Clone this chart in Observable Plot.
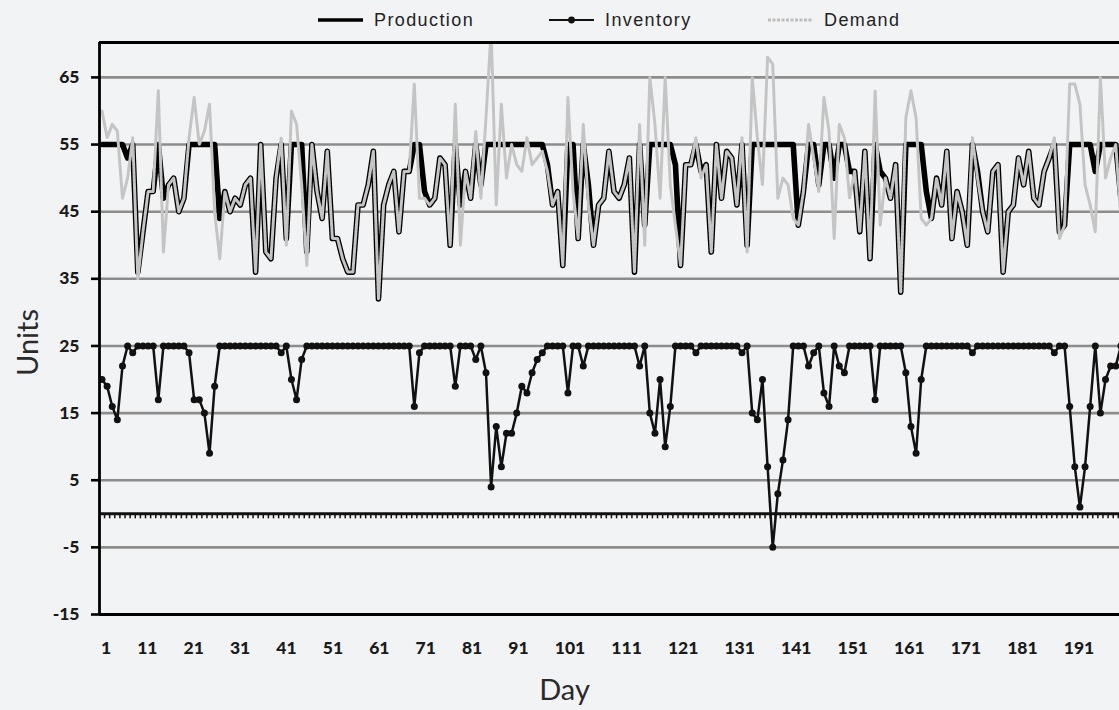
<!DOCTYPE html>
<html><head><meta charset="utf-8">
<script src="https://cdn.jsdelivr.net/npm/d3@7"></script>
<script src="https://cdn.jsdelivr.net/npm/@observablehq/plot@0.6"></script>
<style>
html,body{margin:0;padding:0;background:#f2f3f5;width:1119px;height:710px;overflow:hidden;}
#legend{position:relative;height:36px;font-family:"Liberation Sans",Arial,sans-serif;font-size:18px;letter-spacing:1.4px;color:#222;}
.item{position:absolute;top:2px;height:36px;display:flex;align-items:center;white-space:nowrap;}
.item svg{margin-right:11px;}
#chart svg{display:block;}
</style></head><body>
<div id="legend"></div>
<div id="chart"></div>
<script>
// ---- data ----
const seriesNames = ["Production", "Inventory", "Demand"];
const demand = [
  60,56,58,57,47,50,56,35,42,48, 48,63,39,49,50,45,47,56,62,55,
  57,61,45,38,48,45,47,46,49,50, 36,55,39,38,50,56,40,60,58,49,
  37,55,48,44,54,41,41,38,36,36, 46,46,49,54,32,46,49,51,42,51,
  51,64,47,47,46,47,53,52,40,61, 40,51,47,57,47,59,72,46,61,50,
  55,52,51,56,52,53,54,51,46,48, 37,62,48,41,58,46,40,46,47,54,
  48,47,49,53,36,58,40,65,58,47, 65,49,43,37,52,52,56,50,52,39,
  55,47,54,53,46,56,39,65,56,49, 68,67,47,50,49,44,43,48,58,53,
  48,62,57,41,58,56,47,51,42,54, 38,63,43,50,47,52,33,59,63,59,
  44,43,44,50,46,54,41,48,45,40, 56,50,45,42,51,52,36,45,46,53,
  49,54,47,46,51,53,56,41,43,64, 64,61,49,46,42,65,50,53,55,44
];
const production = [
  55,55,55,55,55,53,55,36,42,48, 48,55,47,49,50,45,47,55,55,55,
  55,55,55,44,48,45,47,46,49,50, 36,55,39,38,50,55,41,55,55,55,
  39,55,48,44,54,41,41,38,36,36, 46,46,49,54,32,46,49,51,42,51,
  51,55,55,48,46,47,53,52,40,55, 46,51,47,55,49,55,55,55,55,55,
  55,55,55,55,55,55,55,52,46,48, 37,55,55,41,55,49,40,46,47,54,
  48,47,49,53,36,55,43,55,55,55, 55,55,52,37,52,52,55,51,52,39,
  55,47,54,53,46,55,40,55,55,55, 55,55,55,55,55,55,43,48,55,55,
  49,55,55,50,55,55,51,51,42,54, 38,55,51,50,47,52,33,55,55,55,
  55,48,44,50,46,54,41,48,45,40, 55,51,45,42,51,52,36,45,46,53,
  49,54,47,46,51,53,55,42,43,55, 55,55,55,55,51,55,55,55,55,47
];
const inventory = [
  20,19,16,14,22,25,24,25,25,25, 25,17,25,25,25,25,25,24,17,17,
  15,9,19,25,25,25,25,25,25,25, 25,25,25,25,25,24,25,20,17,23,
  25,25,25,25,25,25,25,25,25,25, 25,25,25,25,25,25,25,25,25,25,
  25,16,24,25,25,25,25,25,25,19, 25,25,25,23,25,21,4,13,7,12,
  12,15,19,18,21,23,24,25,25,25, 25,18,25,25,22,25,25,25,25,25,
  25,25,25,25,25,22,25,15,12,20, 10,16,25,25,25,25,24,25,25,25,
  25,25,25,25,25,24,25,15,14,20, 7,-5,3,8,14,25,25,25,22,24,
  25,18,16,25,22,21,25,25,25,25, 25,17,25,25,25,25,25,21,13,9,
  20,25,25,25,25,25,25,25,25,25, 24,25,25,25,25,25,25,25,25,25,
  25,25,25,25,25,25,24,25,25,16, 7,1,7,16,25,15,20,22,22,25
];
const xLabels = ["1","11","21","31","41","51","61","71","81","91","101","111","121","131","141","151","161","171","181","191"];
const yTicks = [-15,-5,5,15,25,35,45,55,65];
const gridValues = [-5,5,15,25,35,45,55,65];

// ---- layout ----
const W = 1119, H = 674, mL = 99, mR = 0, mT = 6, mB = 96;
const xMin = 0.512, xMax = 199.73;
const yMin = -15, yMax = 70.2;

const days = d3.range(1, demand.length + 1);
const rows = days.map((d, i) => ({day: d, production: production[i], inventory: inventory[i], demand: demand[i]}));

// category labels are laid out as a flowing row of text (as in the reference)
const labelFont = "900 17.5px Lato";
const ctx = document.createElement("canvas").getContext("2d");
ctx.font = labelFont;
const widths = xLabels.map(t => ctx.measureText(t).width);
const gap = 46.4 - ctx.measureText("21").width;
const centers = [];
xLabels.forEach((t, i) => centers.push(i === 0 ? 105.5 : centers[i - 1] + widths[i - 1] / 2 + gap + widths[i] / 2));
const toDay = px => xMin + (px - mL) / (W - mL - mR) * (xMax - xMin);
const labelRows = xLabels.map((t, i) => ({label: t, day: toDay(centers[i])}));

// ---- legend ----
const legend = document.getElementById("legend");
const legendItems = [
  {name: seriesNames[0], left: 318, svg: '<svg width="45" height="12"><line x1="0" x2="45" y1="6" y2="6" stroke="#000" stroke-width="3.5"/></svg>'},
  {name: seriesNames[1], left: 549, svg: '<svg width="45" height="12"><line x1="0" x2="45" y1="6" y2="6" stroke="#111" stroke-width="2"/><circle cx="22.5" cy="6" r="3.4" fill="#111"/></svg>'},
  {name: seriesNames[2], left: 768, svg: '<svg width="45" height="12"><line x1="0" x2="45" y1="6" y2="6" stroke="#bdbdbd" stroke-width="3" stroke-dasharray="3,1.5"/></svg>'}
];
legendItems.forEach(it => {
  const div = document.createElement("div");
  div.className = "item";
  div.style.left = it.left + "px";
  div.innerHTML = it.svg + "<span>" + it.name + "</span>";
  legend.appendChild(div);
});

// ---- chart ----
const chart = Plot.plot({
  width: W, height: H,
  marginLeft: mL, marginRight: mR, marginTop: mT, marginBottom: mB,
  style: {background: "transparent", fontFamily: "Lato, sans-serif", color: "#1a1a1a", overflow: "visible"},
  x: {domain: [xMin, xMax], axis: null},
  y: {domain: [yMin, yMax], axis: null},
  marks: [
    Plot.ruleY(gridValues, {stroke: "#8c8c8c", strokeWidth: 2.6}),
    Plot.ruleX(d3.range(0, 201), {x: d => d + 0.5, y1: 0, y2: -0.75, stroke: "#111", strokeWidth: 1.5, clip: true}),
    Plot.ruleY([0], {stroke: "#111", strokeWidth: 3}),
    Plot.line(rows, {x: "day", y: "inventory", stroke: "#111", strokeWidth: 2.5, clip: true}),
    Plot.dot(rows, {x: "day", y: "inventory", r: 3.5, fill: "#111", clip: true}),
    Plot.line(rows, {x: "day", y: "production", stroke: "#000", strokeWidth: 5.6, clip: true}),
    Plot.line(rows, {x: "day", y: "demand", stroke: "#c4c4c4", strokeWidth: 3, strokeDasharray: "3,1", clip: true}),
    Plot.ruleX([xMin], {stroke: "#000", strokeWidth: 2.8}),
    Plot.ruleY([yMin, yMax], {stroke: "#000", strokeWidth: 2.8}),
    Plot.axisY({ticks: yTicks, tickFormat: d => String(d), tickSize: 8, tickPadding: 12, stroke: "#000", strokeWidth: 2.6, fontSize: 17.5, fontWeight: 900, label: null}),
    Plot.text(labelRows, {x: "day", y: yMin, text: "label", dy: 34, fontSize: 17.5, fontWeight: 900}),
    Plot.text(["Units"], {frameAnchor: "left", textAnchor: "middle", lineAnchor: "middle", dx: -71, dy: 14, rotate: -90, fontSize: 29, fontWeight: 400, fill: "#2a2a2a"}),
    Plot.text(["Day"], {frameAnchor: "bottom", textAnchor: "middle", lineAnchor: "middle", dx: -45, dy: 76, fontSize: 29, fontWeight: 400, fill: "#2a2a2a"})
  ]
});
document.getElementById("chart").appendChild(chart);
</script></body></html>
